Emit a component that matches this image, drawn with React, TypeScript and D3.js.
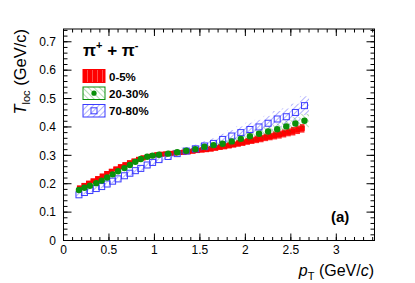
import React from "react";
import * as d3 from "d3";

// 0-5% centrality
const redPt = [0.175, 0.225, 0.275, 0.325, 0.375, 0.425, 0.475, 0.525, 0.575, 0.625, 0.675, 0.725, 0.775, 0.825, 0.875, 0.925, 0.975, 1.025, 1.075, 1.125, 1.175, 1.225, 1.275, 1.325, 1.375, 1.425, 1.475, 1.525, 1.575, 1.625, 1.675, 1.725, 1.775, 1.825, 1.875, 1.925, 1.975, 2.025, 2.075, 2.125, 2.175, 2.225, 2.275, 2.325, 2.375, 2.425, 2.475, 2.525, 2.575, 2.625];
const redT = [0.185, 0.194, 0.202, 0.21, 0.218, 0.227, 0.236, 0.244, 0.252, 0.26, 0.267, 0.274, 0.28, 0.286, 0.291, 0.296, 0.299, 0.302, 0.304, 0.305, 0.307, 0.308, 0.31, 0.311, 0.313, 0.315, 0.317, 0.319, 0.321, 0.323, 0.326, 0.329, 0.332, 0.335, 0.338, 0.342, 0.345, 0.349, 0.352, 0.356, 0.359, 0.363, 0.366, 0.37, 0.373, 0.377, 0.381, 0.385, 0.39, 0.395];
const redErr = [0.008, 0.008, 0.008, 0.008, 0.008, 0.008, 0.008, 0.008, 0.008, 0.008, 0.008, 0.008, 0.008, 0.008, 0.008, 0.008, 0.008, 0.008, 0.008, 0.008, 0.008, 0.008, 0.008, 0.009, 0.009, 0.009, 0.009, 0.009, 0.01, 0.01, 0.01, 0.01, 0.011, 0.011, 0.011, 0.012, 0.012, 0.012, 0.012, 0.013, 0.013, 0.013, 0.013, 0.014, 0.014, 0.014, 0.014, 0.015, 0.015, 0.015];

// 20-30% and 70-80% share the pT bins
const binPt = [0.17, 0.23, 0.29, 0.36, 0.42, 0.48, 0.54, 0.6, 0.67, 0.73, 0.79, 0.85, 0.92, 0.98, 1.05, 1.15, 1.25, 1.35, 1.45, 1.55, 1.65, 1.75, 1.85, 1.95, 2.05, 2.15, 2.25, 2.35, 2.45, 2.55, 2.65];
const greenT = [0.178, 0.186, 0.193, 0.202, 0.211, 0.222, 0.233, 0.244, 0.255, 0.266, 0.277, 0.287, 0.295, 0.299, 0.302, 0.306, 0.311, 0.316, 0.322, 0.33, 0.336, 0.341, 0.349, 0.358, 0.367, 0.376, 0.384, 0.392, 0.402, 0.412, 0.422];
const greenErr = [0.005, 0.005, 0.005, 0.005, 0.005, 0.005, 0.005, 0.005, 0.006, 0.006, 0.006, 0.006, 0.006, 0.006, 0.007, 0.008, 0.009, 0.01, 0.011, 0.012, 0.013, 0.014, 0.015, 0.016, 0.017, 0.018, 0.019, 0.02, 0.021, 0.022, 0.024];
const blueT = [0.161, 0.169, 0.176, 0.183, 0.19, 0.199, 0.209, 0.217, 0.228, 0.237, 0.246, 0.254, 0.266, 0.275, 0.285, 0.296, 0.306, 0.315, 0.323, 0.333, 0.342, 0.356, 0.368, 0.38, 0.391, 0.4, 0.413, 0.428, 0.436, 0.451, 0.475];
const blueErr = [0.006, 0.006, 0.006, 0.006, 0.006, 0.006, 0.007, 0.007, 0.007, 0.007, 0.008, 0.008, 0.009, 0.009, 0.01, 0.011, 0.012, 0.014, 0.015, 0.017, 0.018, 0.02, 0.021, 0.022, 0.024, 0.025, 0.026, 0.028, 0.029, 0.031, 0.033];

const xTickLabels = ["0", "0.5", "1", "1.5", "2", "2.5", "3"];
const yTickLabels = ["0", "0.1", "0.2", "0.3", "0.4", "0.5", "0.6", "0.7"];
const legendLabels = ["0-5%", "20-30%", "70-80%"];

const W = 415;
const H = 283;
const frame = { left: 63.5, right: 374.5, top: 29, bottom: 240.5 };
const RED = "#ff0000";
const GREEN = "#0a900a";
const BLUE = "#3b3bff";
const FONT = "'Liberation Sans', Arial, Helvetica, sans-serif";

const x = d3.scaleLinear().domain([0, 3.42]).range([frame.left, frame.right]);
const y = d3.scaleLinear().domain([0, 0.745]).range([frame.bottom, frame.top]);

// half widths of the boxes from neighbouring bins
const halfWidths = (pts: number[]) =>
  pts.map((p, i) => {
    const prev = i > 0 ? p - pts[i - 1] : pts[i + 1] - p;
    const next = i < pts.length - 1 ? pts[i + 1] - p : p - pts[i - 1];
    return [prev / 2, next / 2];
  });

export default function App() {
  const xMajor = xTickLabels.map(Number);
  const xMinor = d3.range(0, 3.42, 0.1);
  const yMajor = yTickLabels.map(Number);
  const yMinor = d3.range(0, 0.745, 0.02);
  const hw = halfWidths(binPt);
  const redHw = halfWidths(redPt);

  const band = (vals: number[], errs: number[], fill: string, key: string) =>
    binPt.map((p, i) => (
      <rect
        key={key + i}
        x={x(p - hw[i][0])}
        width={x(p + hw[i][1]) - x(p - hw[i][0])}
        y={y(vals[i] + errs[i])}
        height={y(vals[i] - errs[i]) - y(vals[i] + errs[i])}
        fill={fill}
      />
    ));

  return (
    <svg
      width={W}
      height={H}
      style={{ position: "absolute", left: 0, top: 0, background: "#fff" }}
      fontFamily={FONT}
    >
      <defs>
        <pattern id="hatchBlue" width="4" height="4" patternUnits="userSpaceOnUse" patternTransform="rotate(45)">
          <line x1="0" y1="0" x2="0" y2="4" stroke={BLUE} strokeWidth="1" strokeOpacity="0.8" />
        </pattern>
        <pattern id="hatchGreen" width="4" height="4" patternUnits="userSpaceOnUse" patternTransform="rotate(-45)">
          <line x1="0" y1="0" x2="0" y2="4" stroke={GREEN} strokeWidth="1" strokeOpacity="0.6" />
        </pattern>
        <pattern id="redLines" width="5" height="13" patternUnits="userSpaceOnUse">
          <rect width="5" height="13" fill={RED} />
          <line x1="2.5" y1="0" x2="2.5" y2="13" stroke="#ff7070" strokeWidth="0.7" />
        </pattern>
      </defs>

      {/* red boxes */}
      {redPt.map((p, i) => (
        <rect
          key={"rb" + i}
          x={x(p - redHw[i][0])}
          width={x(p + redHw[i][1]) - x(p - redHw[i][0])}
          y={y(redT[i] + redErr[i])}
          height={y(redT[i] - redErr[i]) - y(redT[i] + redErr[i])}
          fill={RED}
          fillOpacity={0.85}
        />
      ))}
      {redPt.map((p, i) => (
        <rect key={"rm" + i} x={x(p) - 2.5} y={y(redT[i]) - 2.5} width={5} height={5} fill={RED} />
      ))}

      {band(blueT, blueErr, "url(#hatchBlue)", "bb")}
      {band(greenT, greenErr, "url(#hatchGreen)", "gb")}

      {binPt.map((p, i) => (
        <rect
          key={"bm" + i}
          x={x(p) - 3}
          y={y(blueT[i]) - 3}
          width={6}
          height={6}
          fill="none"
          stroke={BLUE}
          strokeWidth={1}
        />
      ))}
      {binPt.map((p, i) => (
        <circle key={"gm" + i} cx={x(p)} cy={y(greenT[i])} r={3.2} fill={GREEN} />
      ))}

      {/* frame */}
      <rect
        x={frame.left}
        y={frame.top}
        width={frame.right - frame.left}
        height={frame.bottom - frame.top}
        fill="none"
        stroke="#000"
        strokeWidth={1}
      />

      {/* x ticks */}
      {xMinor.map((t, i) => (
        <g key={"xm" + i}>
          <line x1={x(t)} x2={x(t)} y1={frame.bottom} y2={frame.bottom - 3.5} stroke="#000" />
          <line x1={x(t)} x2={x(t)} y1={frame.top} y2={frame.top + 3.5} stroke="#000" />
        </g>
      ))}
      {xMajor.map((t, i) => (
        <g key={"xM" + i}>
          <line x1={x(t)} x2={x(t)} y1={frame.bottom} y2={frame.bottom - 7} stroke="#000" />
          <line x1={x(t)} x2={x(t)} y1={frame.top} y2={frame.top + 7} stroke="#000" />
          <text x={x(t)} y={254} textAnchor="middle" fontSize={12}>
            {xTickLabels[i]}
          </text>
        </g>
      ))}

      {/* y ticks */}
      {yMinor.map((t, i) => (
        <g key={"ym" + i}>
          <line x1={frame.left} x2={frame.left + 4} y1={y(t)} y2={y(t)} stroke="#000" />
          <line x1={frame.right} x2={frame.right - 4} y1={y(t)} y2={y(t)} stroke="#000" />
        </g>
      ))}
      {yMajor.map((t, i) => (
        <g key={"yM" + i}>
          <line x1={frame.left} x2={frame.left + 8} y1={y(t)} y2={y(t)} stroke="#000" />
          <line x1={frame.right} x2={frame.right - 8} y1={y(t)} y2={y(t)} stroke="#000" />
          <text x={56} y={y(t) + 4.3} textAnchor="end" fontSize={12}>
            {yTickLabels[i]}
          </text>
        </g>
      ))}

      {/* axis titles */}
      <text transform={`translate(25.5,${frame.top}) rotate(-90)`} textAnchor="end" fontSize={16.5}>
        <tspan fontStyle="italic">T</tspan>
        <tspan fontSize={11} dy={4}>loc</tspan>
        <tspan dy={-4}> (GeV/c)</tspan>
      </text>
      <text x={374} y={276} textAnchor="end" fontSize={16}>
        <tspan fontStyle="italic">p</tspan>
        <tspan fontSize={11} dy={4}>T</tspan>
        <tspan dy={-4}> (GeV/</tspan>
        <tspan fontStyle="italic">c</tspan>
        <tspan>)</tspan>
      </text>

      {/* legend */}
      <text x={83} y={56} fontSize={17} fontWeight="bold">
        <tspan>π</tspan>
        <tspan fontSize={11} dy={-7}>+</tspan>
        <tspan dy={7}> + π</tspan>
        <tspan fontSize={11} dy={-7}>-</tspan>
      </text>
      <rect x={83} y={69.5} width={22} height={13} fill="url(#redLines)" stroke={RED} />
      <rect x={83} y={87} width={22} height={12.5} fill="#fff" stroke={GREEN} />
      <rect x={83} y={87} width={22} height={12.5} fill="url(#hatchGreen)" />
      <circle cx={94} cy={93.2} r={2.6} fill={GREEN} />
      <rect x={83} y={104.5} width={22} height={12.5} fill="#fff" stroke={BLUE} />
      <rect x={83} y={104.5} width={22} height={12.5} fill="url(#hatchBlue)" />
      <rect x={91} y={107.8} width={6} height={6} fill="none" stroke={BLUE} />
      {legendLabels.map((l, i) => (
        <text key={l} x={109} y={80.5 + i * 17.3} fontSize={11.5} fontWeight="bold">
          {l}
        </text>
      ))}

      <text x={331} y={222} fontSize={15} fontWeight="bold">
        (a)
      </text>
    </svg>
  );
}
